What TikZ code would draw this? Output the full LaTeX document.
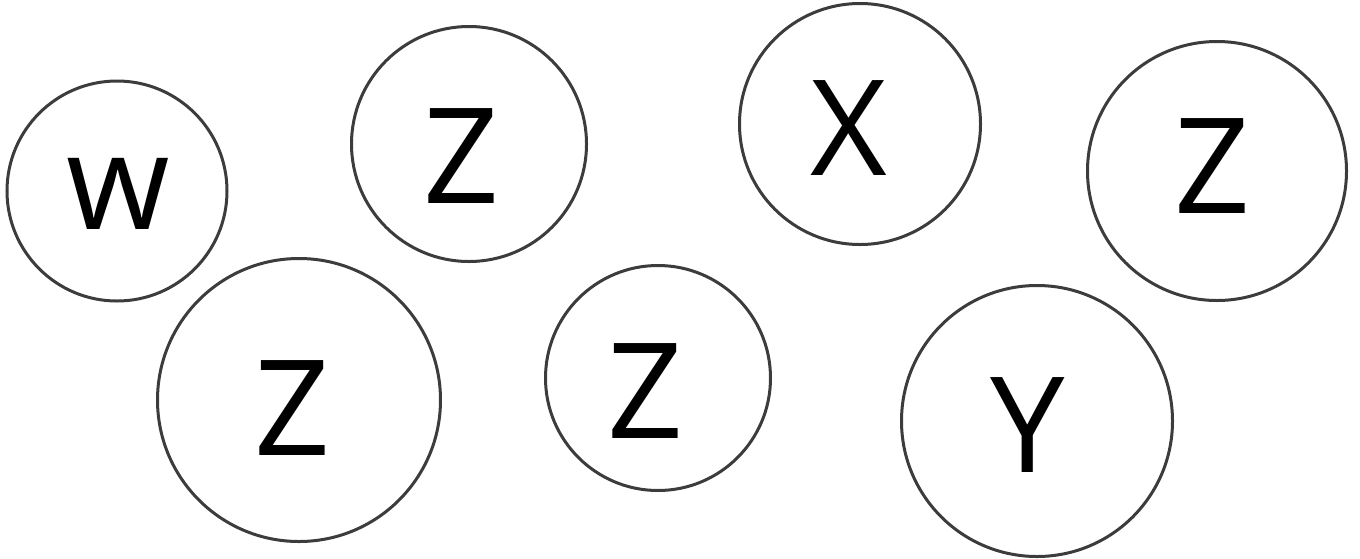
\documentclass[tikz,border=0pt]{standalone}
\usepackage{fontspec}
\setmainfont{Open Sans}
\definecolor{ring}{HTML}{3C3C3C}
\begin{document}
\begin{tikzpicture}[x=1pt,y=-1pt,
  ring/.style={circle,draw=ring,line width=3pt,inner sep=0pt,minimum size=#1},
  letter/.style={anchor=base,inner sep=0pt,font=\fontsize{133}{133}\selectfont}]
\useasboundingbox (0,0) rectangle (1360,558);
\node[ring=220pt] (c1) at (117,191) {};
\node[ring=235pt] (c2) at (469,144) {};
\node[ring=241pt] (c3) at (860,124) {};
\node[ring=259pt] (c4) at (1217,171) {};
\node[ring=283pt] (c5) at (299,400) {};
\node[ring=225pt] (c6) at (658,378) {};
\node[ring=271pt] (c7) at (1037,421) {};
\node[letter] (l1) at (118,229) {w};
\node[letter] (l2) at (461,203) {Z};
\node[letter] (l3) at (849,175) {X};
\node[letter] (l4) at (1212,213) {Z};
\node[letter] (l5) at (292,455) {Z};
\node[letter] (l6) at (645,438) {Z};
\node[letter] (l7) at (1028,472) {Y};
\end{tikzpicture}
\end{document}
